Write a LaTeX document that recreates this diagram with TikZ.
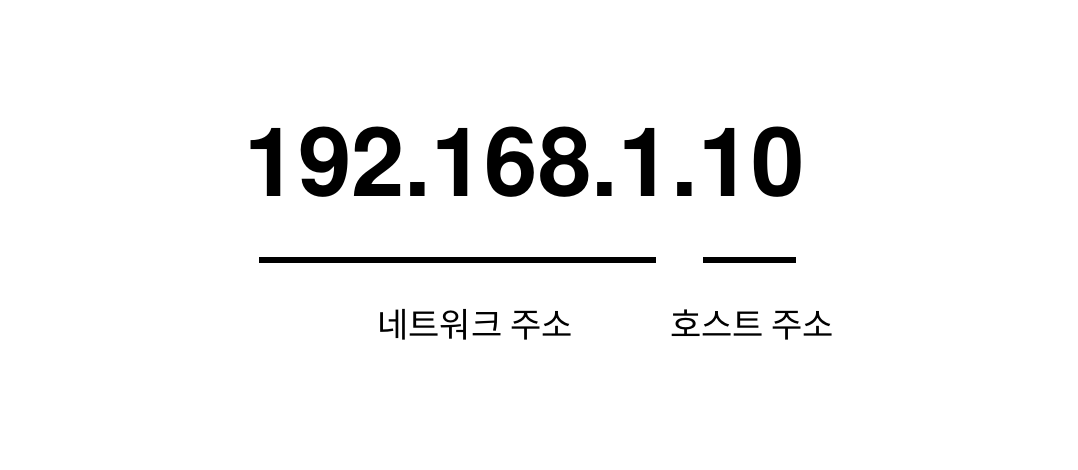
\documentclass[tikz,border=0pt]{standalone}
\usepackage{fontspec}
\setmainfont{TeX Gyre Heros}
\newfontfamily\kr{Noto Sans CJK KR}
\begin{document}
\begin{tikzpicture}[x=1pt,y=-1pt]
\tikzset{
  ip/.style={font=\fontsize{96}{96}\selectfont\bfseries, inner sep=0pt, anchor=base},
  bar/.style={line width=6pt, black},
  lbl/.style={font=\kr\fontsize{34}{34}\selectfont, inner sep=0pt, anchor=base}
}
\fill[white] (0,0) rectangle (1078,470);
\node[ip] (addr) at (525,197) {192.168.1.10};
\coordinate (n1) at (259,260);
\coordinate (n2) at (656,260);
\coordinate (h1) at (703,260);
\coordinate (h2) at (796,260);
\draw[bar] (n1) -- (n2);
\draw[bar] (h1) -- (h2);
\node[lbl] (net) at (475,337) {네트워크 주소};
\node[lbl] (host) at (752,337) {호스트 주소};
\end{tikzpicture}
\end{document}
